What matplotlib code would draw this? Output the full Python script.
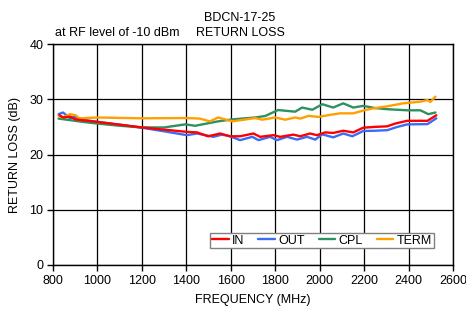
import matplotlib
matplotlib.use("Agg")
import matplotlib.pyplot as plt

plt.rcParams['font.family'] = ['Liberation Sans', 'DejaVu Sans']

# IN (red)
f_in = [830, 845, 877, 902, 935, 1000, 1100, 1200, 1300, 1402, 1448, 1498, 1552, 1597, 1642,
        1702, 1732, 1792, 1822, 1882, 1912, 1957, 1988, 2025, 2061, 2106, 2151, 2196, 2250,
        2304, 2340, 2394, 2485, 2525]
rl_in = [27.1, 26.7, 26.85, 26.35, 26.2, 25.9, 25.4, 24.9, 24.5, 24.1, 24.0, 23.3, 23.8, 23.3,
         23.3, 23.8, 23.2, 23.5, 23.2, 23.6, 23.3, 23.8, 23.5, 24.0, 23.9, 24.3, 24.0, 24.85,
         25.0, 25.1, 25.6, 26.1, 26.1, 27.1]

# OUT (blue)
f_out = [825, 845, 877, 899, 922, 1000, 1100, 1200, 1300, 1402, 1448, 1522, 1560, 1597, 1642,
         1697, 1725, 1777, 1808, 1853, 1898, 1943, 1980, 2012, 2061, 2106, 2147, 2196, 2250,
         2304, 2350, 2394, 2485, 2525]
rl_out = [27.3, 27.6, 26.55, 26.85, 26.35, 25.9, 25.4, 24.85, 24.2, 23.5, 23.8, 23.2, 23.6, 23.3,
          22.6, 23.2, 22.6, 23.2, 22.6, 23.2, 22.7, 23.2, 22.7, 23.65, 23.1, 23.8, 23.3, 24.25,
          24.3, 24.4, 25.0, 25.45, 25.5, 26.55]

# CPL (green)
f_cpl = [825, 935, 1000, 1100, 1200, 1300, 1395, 1440, 1543, 1606, 1710, 1755, 1813, 1890, 1921,
         1967, 2012, 2061, 2106, 2151, 2196, 2250, 2304, 2394, 2453, 2489, 2521]
rl_cpl = [26.5, 25.9, 25.6, 25.2, 24.9, 24.9, 25.45, 25.2, 26.0, 26.35, 26.7, 26.97, 28.05, 27.75,
          28.5, 28.1, 29.1, 28.5, 29.26, 28.5, 28.8, 28.4, 28.2, 28.0, 28.0, 27.3, 27.6]

# TERM (orange)
f_term = [825, 845, 877, 902, 918, 1000, 1200, 1400, 1460, 1507, 1543, 1606, 1660, 1710, 1741,
          1800, 1845, 1890, 1913, 1950, 1994, 2050, 2093, 2151, 2206, 2241, 2300, 2376, 2453,
          2485, 2498, 2521]
rl_term = [27.0, 26.7, 27.3, 27.1, 26.55, 26.7, 26.55, 26.6, 26.5, 26.0, 26.7, 26.0, 26.3, 26.6,
           26.3, 26.7, 26.3, 26.7, 26.5, 27.0, 26.8, 27.2, 27.45, 27.45, 28.05, 28.35, 28.7,
           29.26, 29.56, 29.86, 29.5, 30.47]

x_ticks = list(range(800, 2601, 200))
y_ticks = [0, 10, 20, 30, 40]

fig = plt.figure(figsize=(4.66, 3.09), dpi=100)
ax = fig.add_axes([0.1137, 0.1424, 0.8584, 0.7152])

kw = dict(lw=1.7, solid_joinstyle='round', solid_capstyle='round')
ax.plot(f_in, rl_in, color='#ff0000', label='IN', zorder=4, **kw)
ax.plot(f_out, rl_out, color='#3a6cf4', label='OUT', zorder=3, **kw)
ax.plot(f_cpl, rl_cpl, color='#2e9160', label='CPL', zorder=3, **kw)
ax.plot(f_term, rl_term, color='#ffa000', label='TERM', zorder=3, **kw)

ax.set_xlim(800, 2600)
ax.set_ylim(0, 40)
ax.set_xticks(x_ticks)
ax.set_yticks(y_ticks)
ax.grid(True, color='black', lw=0.9)
ax.set_axisbelow(True)
for s in ax.spines.values():
    s.set_color('black')
    s.set_linewidth(1.0)
ax.tick_params(direction='out', length=4, width=1, labelsize=9, pad=3)

ax.set_xlabel('FREQUENCY (MHz)', fontsize=9, labelpad=5)
ax.set_ylabel('RETURN LOSS (dB)', fontsize=9, labelpad=6)

fig.text(240 / 466, 1 - 18 / 309, 'BDCN-17-25', fontsize=9, ha='center', va='center')
fig.text(55 / 466, 1 - 33 / 309, 'at RF level of -10 dBm', fontsize=9, ha='left', va='center')
fig.text(196 / 466, 1 - 33 / 309, 'RETURN LOSS', fontsize=9, ha='left', va='center')

leg = ax.legend(ncol=4, loc='lower right', bbox_to_anchor=(0.952, 0.075), fontsize=9,
                frameon=True, fancybox=False, framealpha=1, edgecolor='#808080',
                handlelength=1.3, handletextpad=0.3, columnspacing=1.1,
                borderpad=0.15, borderaxespad=0)
leg.get_frame().set_linewidth(1.0)

fig.savefig('out.png', dpi=100)
